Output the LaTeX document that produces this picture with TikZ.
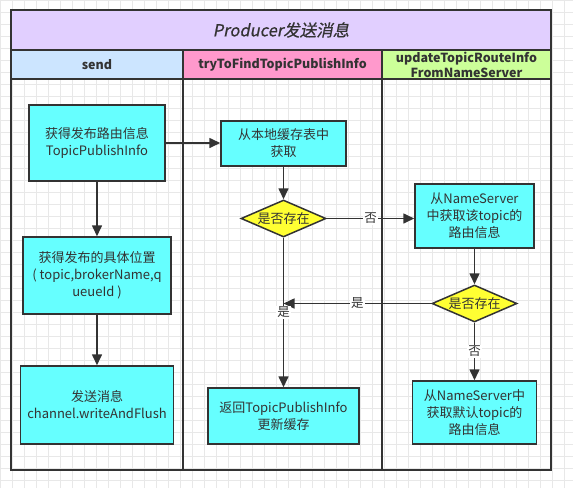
\documentclass[tikz,border=0pt]{standalone}
\usepackage{fontspec}
\setmainfont{Noto Sans CJK SC}
\newfontfamily\titlefont[FakeSlant=0.2,FakeBold=0.6]{Noto Sans CJK SC}
\usetikzlibrary{arrows.meta,shapes.geometric}
\definecolor{linec}{HTML}{333333}
\definecolor{txtc}{HTML}{333333}
\definecolor{gridc}{HTML}{E8E8E8}
\definecolor{titlec}{HTML}{E1CFFF}
\definecolor{sendc}{HTML}{CCE5FF}
\definecolor{tryc}{HTML}{FF99CC}
\definecolor{updc}{HTML}{CCFF99}
\definecolor{boxc}{HTML}{66FFFF}
\definecolor{yelc}{HTML}{FFFF33}
\tikzset{
  lane/.style={draw=linec, line width=1.6pt},
  hdr/.style={text=txtc, font=\bfseries\fontsize{12.5}{14}\selectfont, align=center},
  box/.style={draw=linec, line width=1.5pt, fill=boxc, align=center, text=txtc,
    inner sep=0pt, font=\fontsize{13}{17}\selectfont},
  dec/.style={diamond, draw=linec, line width=1.5pt, fill=yelc, text=txtc, inner sep=0pt,
    aspect=2.3, minimum width=85pt, minimum height=37pt, font=\fontsize{13}{15}\selectfont},
  arr/.style={draw=linec, line width=1.6pt, -{Triangle[length=11pt,width=10pt]}},
  lab/.style={fill=white, text=txtc, inner sep=1pt, font=\fontsize{12.5}{14}\selectfont}
}
\begin{document}
\begin{tikzpicture}[x=1pt,y=-1pt]
\useasboundingbox (0,0) rectangle (573,488);
\fill[white] (0,0) rectangle (573,488);
\foreach \i in {0,12,...,576} {\draw[gridc, line width=0.6pt] (\i,0) -- (\i,488);}
\foreach \j in {0,12,...,492} {\draw[gridc, line width=0.6pt] (0,\j) -- (573,\j);}
% lanes
\fill[titlec] (11,10) rectangle (551,50);
\fill[sendc] (11,50) rectangle (183,79);
\fill[tryc] (183,50) rectangle (382,79);
\fill[updc] (382,50) rectangle (551,79);
\draw[lane] (11,10) rectangle (551,470);
\draw[lane] (11,50) -- (551,50);
\draw[lane] (11,79) -- (551,79);
\draw[lane] (183,50) -- (183,470);
\draw[lane] (382,50) -- (382,470);
\node[text=txtc, font=\titlefont\fontsize{16.5}{18}\selectfont] (title) at (281,30) {Producer发送消息};
\node[hdr] (h1) at (97,65) {send};
\node[hdr] (h2) at (282.5,65) {tryToFindTopicPublishInfo};
\node[hdr, font=\bfseries\fontsize{12.5}{15}\selectfont] (h3) at (466.5,64.5) {updateTopicRouteInfo\\FromNameServer};
% nodes
\node[box, minimum width=136pt, minimum height=76pt] (A) at (97,143) {获得发布路由信息\\TopicPublishInfo};
\node[box, minimum width=148pt, minimum height=77pt] (B) at (97,275.5) {获得发布的具体位置\\( topic,brokerName,q\\ueueId )};
\node[box, minimum width=153pt, minimum height=78pt] (C) at (97,405) {发送消息\\channel.writeAndFlush};
\node[box, minimum width=125pt, minimum height=45pt] (D) at (283.5,143.5) {从本地缓存表中\\获取};
\node[dec] (E) at (283.5,218.5) {是否存在};
\node[box, minimum width=119pt, minimum height=64pt] (F) at (474.5,216) {从NameServer\\中获取该topic的\\路由信息};
\node[dec] (G) at (474.5,303.5) {是否存在};
\node[box, minimum width=151pt, minimum height=56pt] (H) at (283.5,416) {返回TopicPublishInfo\\更新缓存};
\node[box, minimum width=124pt, minimum height=63pt] (I) at (474.5,412.5) {从NameServer中\\获取默认topic的\\路由信息};
\coordinate (J) at (283.5,303.5);
% connectors
\draw[arr] (A.east) -- (A.east -| D.west);
\draw[arr] (A.south) -- (B.north);
\draw[arr] (B.south) -- (C.north);
\draw[arr] (D.south) -- (E.north);
\draw[arr] (E.east) -- node[lab] (l1) {否} (E.east -| F.west);
\draw[arr] (F.south) -- (G.north);
\draw[arr] (G.west) -- node[lab] (l2) {是} (J);
\draw[arr] (E.south) -- node[lab, pos=0.5] (l3) {是} (H.north);
\draw[arr] (G.south) -- node[lab] (l4) {否} (I.north);
\end{tikzpicture}
\end{document}
